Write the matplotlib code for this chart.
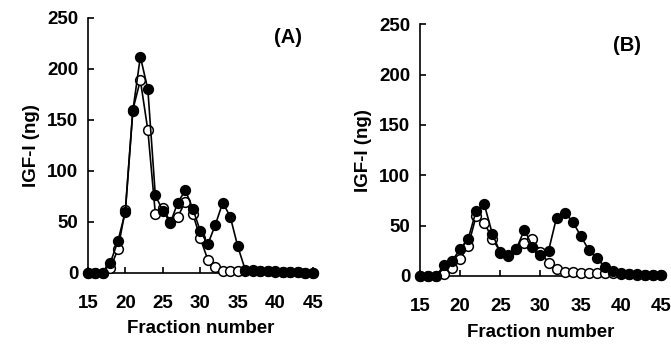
import matplotlib
matplotlib.use("Agg")
import matplotlib.pyplot as plt

plt.rcParams['font.family'] = ['Liberation Sans', 'DejaVu Sans']
plt.rcParams['font.weight'] = 'bold'

fractions = list(range(15, 46))

a_filled = [0, 0, 0, 10, 31, 60, 159, 212, 180, 76, 61, 49, 69, 81, 63, 41, 28, 47, 69, 55, 26,
            3, 3, 2, 2, 2, 1, 1, 1, 0, 0]
a_open = [0, 0, 0, 5, 23, 62, 160, 189, 140, 58, 64, 50, 55, 70, 58, 34, 13, 6, 2, 2, 2,
          2, 2, 2, 2, 1, 1, 1, 1, 0, 0]

b_filled = [0, 0, 0, 11, 15, 27, 37, 65, 71, 42, 23, 20, 27, 46, 29, 21, 25, 58, 63, 54, 40,
            26, 18, 9, 5, 3, 2, 2, 1, 1, 1]
b_open = [0, 0, 0, 2, 8, 17, 30, 60, 53, 37, 24, 21, 27, 33, 37, 24, 13, 7, 4, 4, 3,
          3, 3, 3, 3, 2, 2, 1, 1, 1, 1]

xticks = [15, 20, 25, 30, 35, 40, 45]
yticks = [0, 50, 100, 150, 200, 250]
panel_labels = ["(A)", "(B)"]

fig = plt.figure(figsize=(6.71, 3.45), dpi=100)
axA = fig.add_axes([0.131, 0.209, 0.335, 0.739])
axB = fig.add_axes([0.626, 0.200, 0.359, 0.730])

label_pos = [(41.7, 231), (40.8, 229)]

for ax, filled, opn, lab, lp in [(axA, a_filled, a_open, panel_labels[0], label_pos[0]),
                                  (axB, b_filled, b_open, panel_labels[1], label_pos[1])]:
    ax.plot(fractions, opn, '-o', color='black', mfc='white', mec='black', ms=7,
            mew=1.1, lw=1.2, zorder=3, clip_on=False)
    ax.plot(fractions, filled, '-o', color='black', mfc='black', mec='black', ms=7,
            mew=1.1, lw=1.2, zorder=4, clip_on=False)
    ax.set_xlim(15, 45)
    ax.set_ylim(0, 250)
    ax.set_xticks(xticks)
    ax.set_yticks(yticks)
    ax.spines['top'].set_visible(False)
    ax.spines['right'].set_visible(False)
    ax.spines['left'].set_linewidth(1.2)
    ax.spines['bottom'].set_linewidth(1.2)
    ax.tick_params(axis='x', direction='in', length=4, width=1.2, pad=16, labelsize=13.5)
    ax.tick_params(axis='y', direction='in', length=4, width=1.2, pad=7, labelsize=13.5)
    for t in ax.get_xticklabels() + ax.get_yticklabels():
        t.set_fontweight('bold')
    ax.set_xlabel("Fraction number", fontsize=13.5, fontweight='bold', labelpad=6)
    ax.set_ylabel("IGF-I (ng)", fontsize=13.5, fontweight='bold', labelpad=5)
    ax.text(lp[0], lp[1], lab, fontsize=14.5, fontweight='bold', ha='center', va='center')

fig.savefig("out.png", dpi=100)
